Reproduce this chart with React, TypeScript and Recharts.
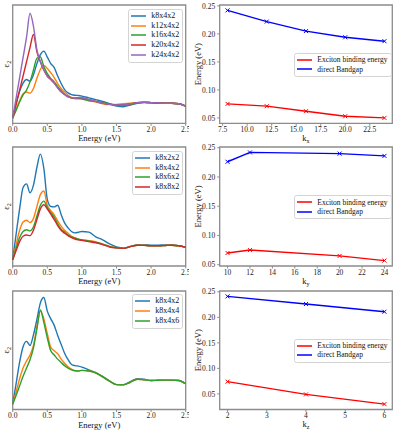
import { LineChart, Line, XAxis, YAxis, ReferenceArea, Legend, Label } from 'recharts';

// photon energy grid (eV)
const ENERGY = [
  0, 0.05, 0.1, 0.15, 0.2, 0.25, 0.3, 0.35, 0.4, 0.45, 0.5, 0.55, 0.6, 0.65, 0.7, 0.75, 0.8, 0.85, 0.9, 0.95,
  1.0, 1.1, 1.2, 1.3, 1.4, 1.5, 1.6, 1.7, 1.8, 1.9, 2.0, 2.1, 2.2, 2.3, 2.4, 2.5,
];
const ENERGY_TICKS = [0, 0.5, 1, 1.5, 2, 2.5];

// eps2, top panel (k_x convergence), arbitrary units
const EPS_K8X4X2 = [4.5, 17, 27, 34, 37, 35.5, 41, 50.5, 58, 61, 56, 50.5, 47, 40, 33.6, 28.5, 25.7, 24.3, 23.7, 23.5, 23, 21.5, 20, 18.5, 16.5, 14.5, 14, 15.5, 17, 17.5, 17.3, 17, 17, 17, 16.5, 14.5];
const EPS_K12X4X2 = [4.5, 12, 19, 25, 26.5, 25.5, 29.4, 38, 45.5, 49, 46.3, 42.7, 38.7, 33.6, 29.4, 26.6, 23.7, 21.8, 21, 21, 21, 19.5, 18, 16.5, 15.8, 16, 16.5, 17, 17.5, 17.8, 17.5, 17.2, 17, 17, 16.5, 14.5];
const EPS_K16X4X2 = [4.5, 11, 18, 24, 28, 35, 45, 55, 56, 48, 42, 38, 35, 31, 27.5, 24.5, 22.5, 21.5, 21, 21, 20.5, 19, 18.5, 17.5, 16.5, 15.5, 15, 16, 17.3, 17.7, 17.5, 17.2, 17, 17, 16.5, 14.5];
const EPS_K20X4X2 = [4.5, 16, 28, 40, 52, 64, 75, 60.4, 52, 45, 40, 37, 34, 30, 26.6, 24.3, 22.5, 21.5, 21.2, 21.5, 21.5, 20, 18.5, 17, 16, 15.5, 15.5, 16.5, 17.5, 17.8, 17.5, 17.2, 17, 17, 16.5, 14.5];
const EPS_K24X4X2 = [4.5, 21.6, 38.6, 55.7, 72.8, 93, 82, 62, 52, 45, 39.8, 37, 34, 30, 26.6, 24.3, 22.3, 21.5, 21.2, 21.5, 21.5, 20, 18.5, 17, 16, 15.5, 15.5, 16.5, 17.5, 17.8, 17.5, 17.2, 17, 17, 16.5, 14.5];

// eps2, middle panel (k_y convergence)
const EPS_K8X2X2 = [5.3, 27, 48, 66, 69, 61.5, 68, 83, 94, 82, 56, 50, 49.7, 51, 43.3, 36.2, 32, 29, 27.8, 28.4, 29, 28.5, 24.5, 22, 18.5, 16, 15, 16.5, 17.7, 17.7, 17.5, 17.5, 17.7, 17.7, 17, 15.7];
const EPS_K8X4X2_Y = [5.3, 18, 30, 37, 38.5, 36.5, 40, 50, 60, 63, 51, 46.5, 43, 38, 33.5, 30, 27.5, 25, 23.6, 22.5, 22, 21.3, 20.3, 18.5, 16.5, 15.3, 14.8, 16.3, 17.5, 17.3, 17, 17, 17.2, 17.5, 17, 15.7];
const EPS_K8X6X2 = [5.3, 15, 24, 29, 30.5, 29.5, 33, 42, 51, 54.5, 49, 45, 41, 35.5, 31, 28.5, 26, 24.5, 23.5, 22.5, 22, 21, 20, 18.2, 16.3, 15.2, 14.8, 16.3, 17.5, 17.3, 17, 17, 17.2, 17.5, 17, 15.7];
const EPS_K8X8X2 = [5.3, 13, 20.5, 25, 26, 25.5, 30, 39, 48, 51.5, 48, 43.5, 39, 34, 30, 27.5, 25.5, 23.8, 22.7, 22, 21.5, 20.5, 19.5, 18, 16, 15.2, 14.8, 16.3, 17.5, 17.3, 17, 17, 17.2, 17.5, 17, 15.7];

// eps2, bottom panel (k_z convergence)
const EPS_K8X4X2_Z = [4.5, 22, 40, 53, 57.5, 54, 63, 76, 90, 94.5, 83, 76.5, 71, 62.5, 55, 47.5, 42, 38, 37, 36.6, 35.8, 33.5, 31, 28, 24, 21, 21, 23.5, 26, 25.5, 24.5, 24.7, 24.8, 24.8, 24.5, 21.7];
const EPS_K8X4X4 = [4.5, 15, 26, 35, 41, 46, 54, 70, 83, 76.5, 64, 52.5, 49.5, 47, 42.5, 39, 36, 34, 32.8, 32.5, 33, 32.5, 31, 27.5, 24, 21, 20.8, 23, 25.5, 25, 24.5, 24.7, 24.8, 24.8, 24.5, 21.7];
const EPS_K8X4X6 = [4.5, 12, 20, 28, 35, 42, 52, 68, 84, 73.5, 60.5, 49.5, 46, 42.5, 39.7, 37, 35, 33.5, 32.7, 32.5, 33, 32.5, 31, 27.5, 24, 21, 20.8, 23, 25.5, 25, 24.5, 24.7, 24.8, 24.8, 24.5, 21.7];

// exciton binding energy and direct gap vs k-points (eV)
const KX = [8, 12, 16, 20, 24];
const KX_EXCITON = [0.075, 0.071, 0.062, 0.053, 0.05];
const KX_GAP = [0.242, 0.222, 0.205, 0.194, 0.187];
const KX_TICKS = [7.5, 10, 12.5, 15, 17.5, 20, 22.5];

const KY = [10, 12, 20, 24];
const KY_EXCITON = [0.07, 0.075, 0.065, 0.057];
const KY_GAP = [0.226, 0.242, 0.24, 0.236];
const KY_TICKS = [10, 12, 14, 16, 18, 20, 22, 24];

const KZ = [2, 4, 6];
const KZ_EXCITON = [0.074, 0.049, 0.03];
const KZ_GAP = [0.241, 0.226, 0.211];
const KZ_TICKS = [2, 3, 4, 5, 6];

const ENERGY_Y_TICKS = [0.05, 0.1, 0.15, 0.2, 0.25];

const C = { blue: '#1f77b4', orange: '#ff7f0e', green: '#2ca02c', red: '#d62728', purple: '#9467bd' };
const SERIF = '"Liberation Serif", "DejaVu Serif", serif';
const SPINE = '#8c8c8c';
const TICK = { fontSize: 7.5, fill: '#222', fontFamily: SERIF };
const TOP_PAD = 6;

type Series = { name: string; values: number[]; color: string };

const pad = (vals: number[]): [number, number] => {
  const lo = Math.min(...vals);
  const hi = Math.max(...vals);
  const m = (hi - lo) * 0.05;
  return [lo - m, hi + m];
};

const xTitle = (main: string, sub?: string) => (props: any) => {
  const vb = props.viewBox || { x: 0, y: 0, width: 0 };
  return (
    <text x={vb.x + vb.width / 2} y={vb.y + 18} textAnchor="middle" fontSize={8.5} fontFamily={SERIF} fill="#111">
      {main}
      {sub && <tspan fontSize={6} dy={2}>{sub}</tspan>}
    </text>
  );
};

const yTitle = (main: string, cx: number, sub?: string) => (props: any) => {
  const vb = props.viewBox || { x: 0, y: 0, height: 0 };
  const x = vb.x + cx;
  const y = vb.y + vb.height / 2;
  return (
    <text x={x} y={y + 3} transform={`rotate(-90 ${x} ${y})`} textAnchor="middle" fontSize={8.5} fontFamily={SERIF} fill="#111">
      {main}
      {sub && <tspan fontSize={6} dy={2}>{sub}</tspan>}
    </text>
  );
};

function LegendBox({ items, rowH, fontSize }: { items: Series[]; rowH: number; fontSize: number }) {
  return (
    <div
      style={{
        border: '1px solid #d4d4d4',
        borderRadius: 2.5,
        background: 'rgba(255,255,255,0.85)',
        padding: '1.5px 3px 2px 2px',
        fontFamily: SERIF,
        fontSize,
        color: '#111',
      }}
    >
      {items.map((s) => (
        <div key={s.name} style={{ display: 'flex', alignItems: 'center', height: rowH, whiteSpace: 'nowrap' }}>
          <svg width={15} height={4} style={{ marginRight: 5, display: 'block' }}>
            <line x1={0} y1={2} x2={15} y2={2} stroke={s.color} strokeWidth={1.5} />
          </svg>
          <span style={{ lineHeight: 1 }}>{s.name}</span>
        </div>
      ))}
    </div>
  );
}

function SpectrumPanel({ top, bottom, series }: { top: number; bottom: number; series: Series[] }) {
  const plotH = bottom - top;
  const data = ENERGY.map((e, i) => {
    const row: Record<string, number> = { e };
    series.forEach((s, j) => (row['s' + j] = s.values[i]));
    return row;
  });
  return (
    <div style={{ position: 'absolute', left: 0, top: top - TOP_PAD }}>
      <LineChart width={189} height={plotH + TOP_PAD + 22} data={data} margin={{ top: TOP_PAD, right: 3.3, left: 0, bottom: 0 }}>
        <XAxis
          dataKey="e"
          type="number"
          domain={[0, 2.5]}
          ticks={ENERGY_TICKS}
          interval={0}
          tickFormatter={(v: number) => v.toFixed(1)}
          height={22}
          axisLine={false}
          tickLine={{ stroke: SPINE }}
          tickSize={2.5}
          tickMargin={1}
          tick={TICK}
        >
          <Label content={xTitle('Energy (eV)')} />
        </XAxis>
        <YAxis type="number" domain={[0, 100]} width={12.7} tick={false} tickLine={false} axisLine={false}>
          <Label content={yTitle('ε', 6, '2')} />
        </YAxis>
        <ReferenceArea x1={0} x2={2.5} y1={0} y2={100} fill="none" stroke={SPINE} strokeWidth={1.3} />
        {series.map((s, j) => (
          <Line
            key={s.name}
            dataKey={'s' + j}
            name={s.name}
            type="monotone"
            stroke={s.color}
            strokeWidth={1.4}
            dot={false}
            activeDot={false}
            isAnimationActive={false}
          />
        ))}
        <Legend
          layout="vertical"
          verticalAlign="middle"
          align="center"
          wrapperStyle={{ left: 'auto', right: 5.7, top: TOP_PAD + 3.5, width: 'auto' }}
          content={() => <LegendBox items={series} rowH={9.8} fontSize={8} />}
        />
      </LineChart>
    </div>
  );
}

const cross = (props: any) => {
  const { cx, cy, stroke, index, dataKey } = props;
  const r = 2;
  return (
    <path
      key={`${dataKey}-${index}`}
      d={`M${cx - r},${cy - r}L${cx + r},${cy + r}M${cx - r},${cy + r}L${cx + r},${cy - r}`}
      stroke={stroke}
      strokeWidth={1}
      fill="none"
    />
  );
};

function TrendPanel(props: {
  top: number;
  bottom: number;
  k: number[];
  exciton: number[];
  gap: number[];
  ticks: number[];
  sub: string;
  digits: number;
}) {
  const { top, bottom, k, exciton, gap, ticks, sub, digits } = props;
  const plotH = bottom - top;
  const data = k.map((x, i) => ({ k: x, exc: exciton[i], gap: gap[i] }));
  const xd = pad(k);
  const yd = pad([...exciton, ...gap]);
  const items: Series[] = [
    { name: 'Exciton binding energy', values: exciton, color: '#ff0000' },
    { name: 'direct Bandgap', values: gap, color: '#0000ff' },
  ];
  return (
    <div style={{ position: 'absolute', left: 190, top: top - TOP_PAD }}>
      <LineChart width={205.3} height={plotH + TOP_PAD + 22} data={data} margin={{ top: TOP_PAD, right: 3, left: 0, bottom: 0 }}>
        <XAxis
          dataKey="k"
          type="number"
          domain={xd}
          ticks={ticks}
          interval={0}
          tickFormatter={(v: number) => v.toFixed(digits)}
          height={22}
          axisLine={false}
          tickLine={{ stroke: SPINE }}
          tickSize={2.5}
          tickMargin={1}
          tick={TICK}
        >
          <Label content={xTitle('k', sub)} />
        </XAxis>
        <YAxis
          type="number"
          domain={yd}
          ticks={ENERGY_Y_TICKS}
          interval={0}
          tickFormatter={(v: number) => v.toFixed(2)}
          width={29.7}
          axisLine={false}
          tickLine={{ stroke: SPINE }}
          tickSize={2.5}
          tickMargin={2}
          tick={TICK}
        >
          <Label content={yTitle('Energy (eV)', 8.5)} />
        </YAxis>
        <ReferenceArea x1={xd[0]} x2={xd[1]} y1={yd[0]} y2={yd[1]} fill="none" stroke={SPINE} strokeWidth={1.3} />
        <Line dataKey="exc" name={items[0].name} type="linear" stroke="#ff0000" strokeWidth={1.4} dot={cross} activeDot={false} isAnimationActive={false} />
        <Line dataKey="gap" name={items[1].name} type="linear" stroke="#0000ff" strokeWidth={1.4} dot={cross} activeDot={false} isAnimationActive={false} />
        <Legend
          layout="vertical"
          verticalAlign="middle"
          align="center"
          wrapperStyle={{ left: 104.3, top: TOP_PAD + plotH / 2 - 11.2, width: 'auto' }}
          content={() => <LegendBox items={items} rowH={9.3} fontSize={7.5} />}
        />
      </LineChart>
    </div>
  );
}

export default function App() {
  return (
    <div style={{ position: 'absolute', left: 0, top: 0, width: 398, height: 433, background: '#fff', overflow: 'hidden' }}>
      <SpectrumPanel
        top={5}
        bottom={123.3}
        series={[
          { name: 'k8x4x2', values: EPS_K8X4X2, color: C.blue },
          { name: 'k12x4x2', values: EPS_K12X4X2, color: C.orange },
          { name: 'k16x4x2', values: EPS_K16X4X2, color: C.green },
          { name: 'k20x4x2', values: EPS_K20X4X2, color: C.red },
          { name: 'k24x4x2', values: EPS_K24X4X2, color: C.purple },
        ]}
      />
      <TrendPanel top={5} bottom={123.3} k={KX} exciton={KX_EXCITON} gap={KX_GAP} ticks={KX_TICKS} sub="x" digits={1} />

      <SpectrumPanel
        top={147}
        bottom={266}
        series={[
          { name: 'k8x2x2', values: EPS_K8X2X2, color: C.blue },
          { name: 'k8x4x2', values: EPS_K8X4X2_Y, color: C.orange },
          { name: 'k8x6x2', values: EPS_K8X6X2, color: C.green },
          { name: 'k8x8x2', values: EPS_K8X8X2, color: C.red },
        ]}
      />
      <TrendPanel top={147} bottom={266} k={KY} exciton={KY_EXCITON} gap={KY_GAP} ticks={KY_TICKS} sub="y" digits={0} />

      <SpectrumPanel
        top={290.5}
        bottom={409}
        series={[
          { name: 'k8x4x2', values: EPS_K8X4X2_Z, color: C.blue },
          { name: 'k8x4x4', values: EPS_K8X4X4, color: C.orange },
          { name: 'k8x4x6', values: EPS_K8X4X6, color: C.green },
        ]}
      />
      <TrendPanel top={290.5} bottom={409} k={KZ} exciton={KZ_EXCITON} gap={KZ_GAP} ticks={KZ_TICKS} sub="z" digits={0} />
    </div>
  );
}
